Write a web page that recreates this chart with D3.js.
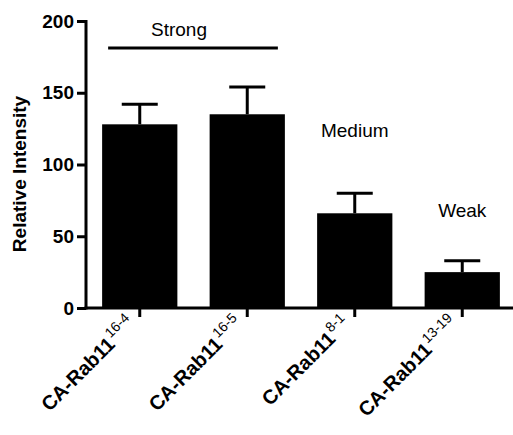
<!DOCTYPE html>
<html>
<head>
<meta charset="utf-8">
<script src="https://cdn.jsdelivr.net/npm/d3@7"></script>
<style>
  html, body { margin: 0; padding: 0; background: #fff; }
  svg { display: block; font-family: Arial, "Liberation Sans", Helvetica, sans-serif; }
</style>
</head>
<body>
<svg id="chart" width="513" height="435"></svg>
<script>
// Relative intensity of CA-Rab11 lines (mean with error)
const lines = ["16-4", "16-5", "8-1", "13-19"];
const means = [128, 135, 66, 25];
const errors = [14, 19, 14, 8];
const yTicks = [0, 50, 100, 150, 200];
const groupLabels = ["Strong", "Medium", "Weak"];
const labelStem = "CA-Rab11";

const svg = d3.select("#chart");

const x = d3.scaleBand().domain(lines).range([86, 516]).paddingInner(0.3).paddingOuter(0.15);
const y = d3.scaleLinear().domain([0, 200]).range([308, 21]);

const data = lines.map((k, i) => ({ key: k, mean: means[i], err: errors[i] }));

// bars
svg.append("g").selectAll("rect").data(data).join("rect")
  .attr("x", d => x(d.key))
  .attr("width", x.bandwidth())
  .attr("y", d => y(d.mean))
  .attr("height", d => y(0) - y(d.mean))
  .attr("fill", "#000");

// error bars (upper only)
const eb = svg.append("g").attr("stroke", "#000").attr("stroke-width", 3);
eb.selectAll("line.v").data(data).join("line").attr("class", "v")
  .attr("x1", d => x(d.key) + x.bandwidth() / 2)
  .attr("x2", d => x(d.key) + x.bandwidth() / 2)
  .attr("y1", d => y(d.mean))
  .attr("y2", d => y(d.mean + d.err));
eb.selectAll("line.c").data(data).join("line").attr("class", "c")
  .attr("x1", d => x(d.key) + x.bandwidth() / 2 - 18)
  .attr("x2", d => x(d.key) + x.bandwidth() / 2 + 18)
  .attr("y1", d => y(d.mean + d.err))
  .attr("y2", d => y(d.mean + d.err));

// y axis
const yAxis = svg.append("g")
  .attr("transform", "translate(86,0)")
  .call(d3.axisLeft(y).tickValues(yTicks).tickSize(9).tickPadding(3).tickSizeOuter(0));
yAxis.select(".domain").attr("stroke-width", 3).attr("d", `M0,${y(200) - 1}V${y(0) + 1.5}`);
yAxis.selectAll(".tick line").attr("stroke-width", 3);
yAxis.selectAll(".tick text")
  .attr("font-size", 19).attr("font-weight", "bold").attr("fill", "#000")
  .attr("font-family", "Arial, 'Liberation Sans', sans-serif");

// x axis
const xAxis = svg.append("g")
  .attr("transform", `translate(0,${y(0)})`)
  .call(d3.axisBottom(x).tickSize(9).tickSizeOuter(0).tickFormat(""));
xAxis.select(".domain").attr("stroke-width", 3).attr("d", "M84.5,0H513");
xAxis.selectAll(".tick line").attr("stroke-width", 3);

// category labels at -45deg: bold stem with superscript line number
const labels = svg.append("g");
lines.forEach(k => {
  const cx = x(k) + x.bandwidth() / 2;
  const g = labels.append("g")
    .attr("transform", `translate(${cx - 3},${y(0) + 17}) rotate(-45)`);
  const t = g.append("text").attr("text-anchor", "end").attr("fill", "#000");
  t.append("tspan").attr("font-size", 20).attr("font-weight", "bold").text(labelStem);
  t.append("tspan").attr("font-size", 14).attr("dx", 1).attr("dy", -9).text(k);
});

// y axis title
svg.append("text")
  .attr("transform", "translate(26,174) rotate(-90)")
  .attr("text-anchor", "middle")
  .attr("font-size", 19).attr("font-weight", "bold")
  .text("Relative Intensity");

// group annotations
svg.append("line")
  .attr("x1", x(lines[0]) + 6).attr("x2", x(lines[1]) + x.bandwidth() - 7)
  .attr("y1", 48).attr("y2", 48)
  .attr("stroke", "#000").attr("stroke-width", 3);
svg.append("text").attr("x", 179).attr("y", 36).attr("text-anchor", "middle")
  .attr("font-size", 19).text(groupLabels[0]);
svg.append("text").attr("x", x(lines[2]) + x.bandwidth() / 2).attr("y", 137).attr("text-anchor", "middle")
  .attr("font-size", 19).text(groupLabels[1]);
svg.append("text").attr("x", x(lines[3]) + x.bandwidth() / 2).attr("y", 217).attr("text-anchor", "middle")
  .attr("font-size", 19).text(groupLabels[2]);
</script>
</body>
</html>
